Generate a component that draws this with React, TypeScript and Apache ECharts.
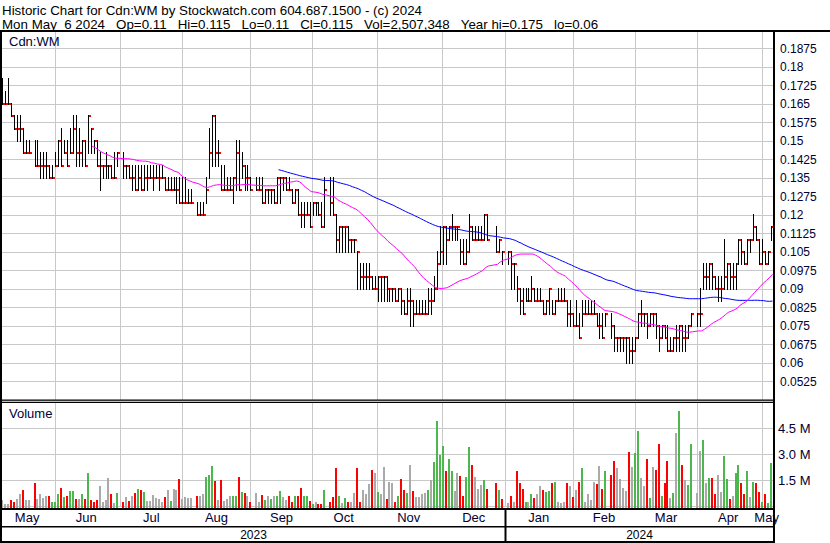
import React, { useEffect, useRef } from "react";
import * as echarts from "echarts";

const TITLE_1 = "Historic Chart for Cdn:WM by Stockwatch.com 604.687.1500 - (c) 2024";
const TITLE_2 = "Mon May  6 2024   Op=0.11   Hi=0.115   Lo=0.11   Cl=0.115   Vol=2,507,348   Year hi=0.175   lo=0.06";
const SYMBOL = "Cdn:WM";
const VOLUME_TITLE = "Volume";

const FIRST_DAY = "2023-05-08";
const WEEKDAY_COUNT = 261;
const HOLIDAYS = ["2023-05-22", "2023-07-03", "2023-08-07", "2023-09-04", "2023-10-09", "2023-12-25", "2023-12-26", "2024-01-01", "2024-02-19", "2024-03-29"];
const MONTH_NAMES = ["Jan", "Feb", "Mar", "Apr", "May", "Jun", "Jul", "Aug", "Sep", "Oct", "Nov", "Dec"];
const YEAR_LABELS = ["2023", "2024"];

const PRICE_MIN = 0.045;
const PRICE_MAX = 0.195;
const PRICE_STEP = 0.0075;
const VOL_MAX = 6000000;
const VOL_STEP = 1500000;
const MA_SHORT = 30;
const MA_LONG = 90;

// trading-day values, thousandths of a dollar (May-2023 ... May-2024)
const HIGH = [
  175,170,175,165,160,160,160,155,150,150,150,150,145,145,145,140,140,
  145,150,155,150,150,155,160,160,155,150,150,160,155,150,150,145,140,145,140,140,145,145,
  145,140,140,140,140,140,140,140,140,140,140,140,140,140,135,135,135,135,135,135,
  135,135,130,130,125,125,125,135,155,160,160,150,140,140,135,135,135,150,150,145,140,140,
  135,135,135,135,130,130,130,130,135,135,135,135,135,130,130,130,125,125,125,125,
  125,125,125,125,135,135,135,120,115,115,115,115,110,110,105,100,100,100,100,95,95,
  95,95,95,95,90,90,90,90,90,85,90,90,85,85,85,85,85,90,90,95,105,115,
  115,115,115,120,115,115,110,110,110,120,115,115,115,115,120,120,115,110,105,
  105,105,100,95,90,90,90,90,95,90,90,90,85,85,90,85,85,90,90,90,85,85,
  80,85,80,85,85,85,85,85,80,80,80,80,80,75,70,70,70,70,70,70,
  70,80,85,80,80,80,80,80,75,75,75,75,70,70,75,75,75,75,75,80,
  80,90,100,100,100,100,95,95,95,110,100,100,100,100,110,110,105,110,110,120,115,110,
  110,105,105,115,
];
const LOW = [
  165,165,165,160,155,150,150,145,145,145,140,140,135,135,135,135,135,
  140,140,140,145,140,145,145,140,140,140,140,145,145,145,140,130,135,135,135,135,135,140,
  135,135,135,130,130,130,130,130,130,135,130,135,130,135,130,130,130,130,125,125,
  125,125,125,125,120,120,120,125,135,140,140,140,130,130,130,130,125,130,130,135,130,130,
  130,130,130,125,125,125,125,125,125,125,130,130,130,125,125,120,115,115,120,115,
  120,120,120,115,115,120,120,105,105,105,105,105,105,105,90,90,90,90,90,90,90,
  85,85,85,85,85,85,85,85,80,80,80,75,75,80,80,80,80,80,80,85,90,100,
  100,100,110,110,110,110,100,100,100,105,110,110,110,110,110,110,105,105,100,
  100,90,90,85,80,80,85,85,85,85,85,85,80,80,80,80,80,85,85,85,75,75,
  75,75,70,75,80,80,80,80,75,70,70,75,70,65,65,65,65,60,60,60,
  65,70,75,75,70,75,75,70,65,70,70,65,65,65,65,65,65,65,70,75,
  75,75,90,90,90,90,90,85,85,90,90,90,90,90,100,100,100,100,105,110,110,100,
  100,100,100,110,
];
const CLOSE = [
  165,165,165,160,155,155,155,145,145,145,140,140,140,140,140,135,135,
  140,150,140,145,140,145,155,145,145,150,140,160,155,150,140,140,140,140,140,135,135,145,
  140,140,135,135,130,135,130,135,135,135,135,135,135,135,130,130,130,130,130,125,
  125,125,125,125,120,120,120,130,145,160,145,145,130,130,130,130,135,145,130,140,135,135,
  130,130,130,125,130,130,130,125,135,135,135,130,130,125,130,120,120,120,120,115,
  125,125,120,115,130,125,120,110,115,115,115,110,110,110,105,95,95,95,95,90,90,
  95,95,95,90,90,90,85,90,85,80,85,85,80,80,80,80,80,85,85,90,100,105,
  115,110,115,115,115,115,105,100,105,115,110,110,110,110,120,110,105,110,105,
  105,100,100,90,85,80,85,85,90,85,85,85,80,85,90,80,85,85,85,85,80,80,
  75,75,70,80,80,80,80,80,75,75,70,80,75,70,70,70,70,70,65,65,
  70,80,80,80,75,80,80,75,70,75,70,65,65,70,70,75,70,70,75,80,
  80,80,95,95,100,95,90,90,90,95,100,95,95,100,110,105,100,110,110,115,110,100,
  105,100,105,115,
];
// millions of shares
const VOLUME_M = [
  0.35,0.1,0.1,0.35,0.2,0.4,0.7,0.95,0.35,0.35,1.3,0.4,0.7,0.45,0.55,0.55,0.25,
  0.25,0.7,1.05,0.5,0.6,0.85,0.85,0.4,0.4,0.7,0.4,1.9,0.35,0.2,0.35,1.15,0.2,0.35,1.6,0.7,0.15,0.75,
  0.2,0.5,0.3,0.6,0.75,1.0,0.9,0.8,0.3,0.3,0.65,0.45,0.4,0.2,0.5,0.9,0.3,1.0,0.9,1.55,
  0.4,0.5,0.45,0.45,0.6,0.55,0.7,1.7,1.8,2.3,1.45,0.35,1.5,0.3,0.4,0.55,0.6,0.6,1.7,0.8,0.75,0.6,
  0.2,0.75,0.2,0.65,0.35,0.55,0.4,0.6,0.6,0.85,0.5,0.35,0.6,0.25,0.6,0.6,1.05,0.6,0.6,0.3,
  0.1,0.25,0.1,0.1,0.95,0.25,0.5,2.2,0.6,0.15,0.45,0.2,0.25,0.75,2.2,0.25,0.9,0.7,1.25,2.1,1.9,
  0.8,0.7,2.25,0.4,1.4,1.35,0.2,0.55,1.55,0.9,0.75,2.4,0.85,0.5,0.5,0.7,0.75,0.9,1.5,2.55,4.9,2.95,
  3.45,2.0,2.7,2.05,0.85,1.9,1.75,0.6,1.65,3.4,2.4,1.7,1.0,1.2,1.5,1.0,1.3,0.9,0.4,
  0.15,0.6,0.2,2.05,1.3,1.0,0.25,0.2,0.7,0.45,0.7,1.15,0.9,0.8,0.85,1.35,1.4,0.2,0.15,0.2,1.3,1.15,
  0.5,0.95,1.4,2.2,0.2,0.7,0.35,1.4,1.25,2.3,1.0,2.0,1.8,2.6,2.2,1.55,1.05,0.85,3.1,2.25,
  3.05,4.35,1.6,1.15,2.7,0.45,2.25,2.1,3.6,0.6,1.35,2.6,0.45,0.75,4.2,5.5,2.4,1.5,1.2,3.6,
  0.75,3.2,3.8,1.35,1.6,1.6,0.7,1.8,0.8,2.9,1.55,0.4,0.55,1.9,2.35,1.35,0.7,2.05,0.5,1.4,1.35,0.8,
  0.2,0.7,0.15,2.5,
];
// u = up day, d = down day, n = unchanged
const VOLUME_TONE =
  "nnnddnndnndnnnndu" +
  "uududuudnududddnnnndnu" +
  "dndndudunnnnnndnunnd" +
  "nnnndnnuuudndnnnuududn" +
  "dnndununuunnddudduud" +
  "unddudddunudnnddnnndn" +
  "unndnnduddundnnnnunuuu" +
  "uduunndduudnnnuddud" +
  "ndndddunudnnduudunnndn" +
  "dndunnnndnduddnnnndn" +
  "uunndundduddnunudnuu" +
  "nnunuddnnuudnuuddunudd" +
  "uduu";

const TONE_COLOR: Record<string, string> = { u: "#4cb74c", d: "#ff0000", n: "#aaaaaa" };
const FONT = "'Liberation Sans', Arial, sans-serif";
const AXIS_TEXT = "#000033";
const GRID_COLOR = "#c8c8c8";

// keep runs of spaces visible in SVG text
const keepSpaces = (s: string) => s.replace(/ {2,}/g, (m) => "\u00A0".repeat(m.length));

function buildWeekdays(): string[] {
  const out: string[] = [];
  const d = new Date(FIRST_DAY + "T00:00:00Z");
  while (out.length < WEEKDAY_COUNT) {
    const wd = d.getUTCDay();
    if (wd !== 0 && wd !== 6) out.push(d.toISOString().slice(0, 10));
    d.setUTCDate(d.getUTCDate() + 1);
  }
  return out;
}

export default function App() {
  const ref = useRef<HTMLDivElement>(null);

  useEffect(() => {
    if (!ref.current) return;
    const chart = echarts.init(ref.current, undefined, { renderer: "svg" });

    const days = buildWeekdays();
    const holidaySet = new Set(HOLIDAYS);
    const tradeIdx: number[] = [];
    days.forEach((d, i) => {
      if (!holidaySet.has(d)) tradeIdx.push(i);
    });

    const monthStarts = new Set<number>();
    const labelIdx = new Set<number>();
    let groupStart = 0;
    for (let i = 1; i <= days.length; i++) {
      if (i === days.length || days[i].slice(0, 7) !== days[i - 1].slice(0, 7)) {
        labelIdx.add(Math.floor((groupStart + i - 1) / 2));
        if (i < days.length) monthStarts.add(i);
        groupStart = i;
      }
    }

    const ohlc = tradeIdx.map((ci, k) => [ci, HIGH[k] / 1000, LOW[k] / 1000, CLOSE[k] / 1000]);
    const vols = tradeIdx.map((ci, k) => [ci, VOLUME_M[k] * 1e6]);

    const sma = (n: number) => {
      const out: (number | null)[] = new Array(days.length).fill(null);
      for (let k = n - 1; k < CLOSE.length; k++) {
        let s = 0;
        for (let j = k - n + 1; j <= k; j++) s += CLOSE[j];
        out[tradeIdx[k]] = s / n / 1000;
      }
      return out;
    };

    const splitX = {
      show: true,
      interval: (index: number) => monthStarts.has(index),
      lineStyle: { color: GRID_COLOR, width: 1 },
    };

    const textStyle = (text: string, size: number, fill: string, align = "left") => ({
      text, font: size + "px " + FONT, fill,
      align, verticalAlign: "middle", textAlign: align, textVerticalAlign: "middle",
    });

    const option: any = {
      animation: false,
      backgroundColor: "#ffffff",
      grid: [
        { left: 2, right: 56, top: 30, height: 370, outerBoundsMode: "none", containLabel: false },
        { left: 2, right: 56, top: 402.4, height: 103.5, outerBoundsMode: "none", containLabel: false },
      ],
      xAxis: [
        {
          type: "category", gridIndex: 0, data: days, boundaryGap: true,
          axisLine: { show: false }, axisTick: { show: false }, axisLabel: { show: false },
          splitLine: splitX,
        },
        {
          type: "category", gridIndex: 1, data: days, boundaryGap: true,
          axisLine: { show: false }, axisTick: { show: false },
          axisLabel: {
            show: true,
            interval: (index: number) => labelIdx.has(index),
            formatter: (v: string) => MONTH_NAMES[Number(v.slice(5, 7)) - 1],
            fontSize: 13, fontFamily: FONT, color: AXIS_TEXT, margin: 5, hideOverlap: false,
          },
          splitLine: splitX,
        },
      ],
      yAxis: [
        {
          type: "value", gridIndex: 0, position: "right", min: PRICE_MIN, max: PRICE_MAX, interval: PRICE_STEP,
          axisLine: { show: false }, axisTick: { show: false },
          axisLabel: {
            show: true, margin: 6, fontSize: 12, fontFamily: FONT, color: AXIS_TEXT,
            showMinLabel: false, showMaxLabel: false, hideOverlap: false,
            formatter: (v: number) => String(Number(v.toFixed(4))),
          },
          splitLine: { show: true, lineStyle: { color: GRID_COLOR, width: 1 } },
        },
        {
          type: "value", gridIndex: 1, position: "right", min: 0, max: VOL_MAX, interval: VOL_STEP,
          axisLine: { show: false }, axisTick: { show: false },
          axisLabel: {
            show: true, margin: 4, fontSize: 13, fontFamily: FONT, color: AXIS_TEXT,
            showMinLabel: false, showMaxLabel: false, hideOverlap: false,
            formatter: (v: number) => (v / 1e6).toFixed(1) + " M",
          },
          splitLine: { show: true, lineStyle: { color: GRID_COLOR, width: 1 } },
        },
      ],
      series: [
        {
          type: "custom", xAxisIndex: 0, yAxisIndex: 0, z: 2, silent: true,
          data: ohlc,
          encode: { x: 0, y: [1, 2, 3] },
          renderItem: (_params: any, api: any) => {
            const i = api.value(0);
            const hi = api.coord([i, api.value(1)]);
            const lo = api.coord([i, api.value(2)]);
            const cl = api.coord([i, api.value(3)]);
            const X = Math.floor(hi[0] - 1);
            const yh = Math.round(hi[1]);
            const yl = Math.round(lo[1]);
            const yc = Math.round(cl[1]);
            return {
              type: "group",
              children: [
                { type: "rect", shape: { x: X + 1, y: yc - 1, width: 2, height: 2 }, style: { fill: "#ff0000" } },
                { type: "rect", shape: { x: X, y: yh - 1, width: 1, height: yl - yh + 2 }, style: { fill: "#000000" } },
              ],
            };
          },
        },
        {
          type: "line", xAxisIndex: 0, yAxisIndex: 0, z: 3, silent: true,
          data: sma(MA_LONG), connectNulls: true, showSymbol: false, symbol: "none",
          lineStyle: { color: "#0000ff", width: 1 },
        },
        {
          type: "line", xAxisIndex: 0, yAxisIndex: 0, z: 3, silent: true,
          data: sma(MA_SHORT), connectNulls: true, showSymbol: false, symbol: "none",
          lineStyle: { color: "#ff00ff", width: 1 },
        },
        {
          type: "custom", xAxisIndex: 1, yAxisIndex: 1, z: 2, silent: true,
          data: vols,
          encode: { x: 0, y: 1 },
          renderItem: (params: any, api: any) => {
            const i = api.value(0);
            const top = api.coord([i, api.value(1)]);
            const base = api.coord([i, 0]);
            const X = Math.floor(top[0] - 1);
            const color = TONE_COLOR[VOLUME_TONE[params.dataIndex]] || "#aaaaaa";
            const yTop = Math.round(top[1]);
            return {
              type: "rect",
              shape: { x: X - 1, y: yTop, width: 2, height: base[1] + 2 - yTop },
              style: { fill: color },
            };
          },
        },
      ],
      graphic: {
        elements: [
          { type: "text", x: 2, y: 10, z: 100, style: textStyle(keepSpaces(TITLE_1), 13.33, "#000") },
          { type: "text", x: 2, y: 24, z: 100, style: textStyle(keepSpaces(TITLE_2), 13.33, "#000") },
          { type: "text", x: 9, y: 41, z: 100, style: textStyle(SYMBOL, 13, AXIS_TEXT) },
          { type: "text", x: 9, y: 413, z: 100, style: textStyle(VOLUME_TITLE, 13, AXIS_TEXT) },
          { type: "rect", z: 100, shape: { x: 0, y: 30, width: 830, height: 2 }, style: { fill: "#000" } },
          { type: "rect", z: 100, shape: { x: 0, y: 30, width: 2, height: 513 }, style: { fill: "#000" } },
          { type: "rect", z: 100, shape: { x: 773, y: 30, width: 2, height: 513 }, style: { fill: "#000" } },
          { type: "rect", z: 100, shape: { x: 0, y: 399.5, width: 774, height: 1.2 }, style: { fill: "#000" } },
          { type: "rect", z: 100, shape: { x: 0, y: 401.8, width: 774, height: 1.2 }, style: { fill: "#000" } },
          { type: "rect", z: 100, shape: { x: 0, y: 508, width: 775, height: 2 }, style: { fill: "#000" } },
          { type: "rect", z: 100, shape: { x: 0, y: 526, width: 775, height: 1.5 }, style: { fill: "#000" } },
          { type: "rect", z: 100, shape: { x: 0, y: 541, width: 775, height: 2 }, style: { fill: "#000" } },
          { type: "rect", z: 100, shape: { x: 504.5, y: 510, width: 2, height: 33 }, style: { fill: "#000" } },
          { type: "text", x: 253.5, y: 534.5, z: 100, style: textStyle(YEAR_LABELS[0], 12, "#000", "center") },
          { type: "text", x: 639.5, y: 534.5, z: 100, style: textStyle(YEAR_LABELS[1], 12, "#000", "center") },
        ],
      },
    };

    chart.setOption(option);
    return () => chart.dispose();
  }, []);

  return (
    <div
      ref={ref}
      style={{ position: "fixed", left: 0, top: 0, width: 830, height: 543, background: "#fff" }}
    />
  );
}
